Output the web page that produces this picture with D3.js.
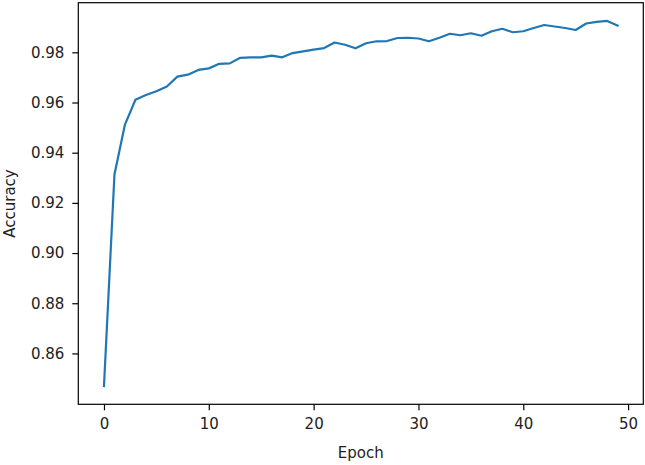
<!DOCTYPE html>
<html>
<head>
<meta charset="utf-8">
<script src="https://cdn.jsdelivr.net/npm/d3@7"></script>
<style>
  body { margin: 0; background: #fff; }
  svg text { font-family: "DejaVu Sans", sans-serif; fill: #222; }
</style>
</head>
<body>
<script>
// accuracy per epoch
let epochs = d3.range(0, 50);
let accuracy = [
  0.8470, 0.9313, 0.9512, 0.9611, 0.9630, 0.9645, 0.9664, 0.9703, 0.9711, 0.9730,
  0.9736, 0.9754, 0.9756, 0.9778, 0.9780, 0.9780, 0.9787, 0.9780, 0.9797, 0.9804,
  0.9811, 0.9817, 0.9839, 0.9830, 0.9816, 0.9836, 0.9844, 0.9845, 0.9857, 0.9858,
  0.9855, 0.9844, 0.9858, 0.9874, 0.9868, 0.9876, 0.9866, 0.9884, 0.9894, 0.9880,
  0.9884, 0.9897, 0.9909, 0.9903, 0.9897, 0.9889, 0.9915, 0.9921, 0.9925, 0.9907
];
let xTicks = [0, 10, 20, 30, 40, 50];
let yTicks = [0.86, 0.88, 0.90, 0.92, 0.94, 0.96, 0.98];

let largeur = 645, hauteur = 465;
let marges = { top: 2.7, right: 1.7, bottom: 60.7, left: 78.3 };
let w = largeur - marges.left - marges.right;
let h = hauteur - marges.top - marges.bottom;

let svg = d3.select("body").append("svg")
    .attr("width", largeur)
    .attr("height", hauteur);

let canevas = svg.append("g")
    .attr("transform", "translate(" + marges.left + "," + marges.top + ")");

// marges a la matplotlib (5%)
let xMin = d3.min(epochs), xMax = d3.max(epochs);
let xPad = (xMax - xMin) * 0.05;
let yMin = d3.min(accuracy), yMax = d3.max(accuracy);
let yPad = (yMax - yMin) * 0.05;

let echelleX = d3.scaleLinear()
    .domain([xMin - xPad, xMax + xPad])
    .range([0, w]);

let echelleY = d3.scaleLinear()
    .domain([yMin - yPad, yMax + yPad])
    .range([h, 0]);

let axeX = d3.axisBottom(echelleX)
    .tickValues(xTicks)
    .tickSize(6)
    .tickPadding(8)
    .tickFormat(d3.format("d"));

let axeY = d3.axisLeft(echelleY)
    .tickValues(yTicks)
    .tickSize(6)
    .tickPadding(8)
    .tickFormat(d3.format(".2f"));

canevas.append("g")
    .attr("transform", "translate(0," + h + ")")
    .call(axeX)
    .call(g => g.select(".domain").remove())
    .call(g => g.selectAll("line").attr("stroke", "#000").attr("stroke-width", 1.2))
    .selectAll("text")
    .attr("font-size", 15)
    .attr("font-family", "DejaVu Sans");

canevas.append("g")
    .call(axeY)
    .call(g => g.select(".domain").remove())
    .call(g => g.selectAll("line").attr("stroke", "#000").attr("stroke-width", 1.2))
    .selectAll("text")
    .attr("font-size", 15)
    .attr("font-family", "DejaVu Sans");

// la courbe
let ligne = d3.line()
    .x((d, i) => echelleX(epochs[i]))
    .y(d => echelleY(d));

canevas.append("path")
    .datum(accuracy)
    .attr("fill", "none")
    .attr("stroke", "#1f77b4")
    .attr("stroke-width", 2.2)
    .attr("stroke-linejoin", "round")
    .attr("stroke-linecap", "square")
    .attr("d", ligne);

// le cadre
canevas.append("rect")
    .attr("width", w)
    .attr("height", h)
    .attr("fill", "none")
    .attr("stroke", "#000")
    .attr("stroke-width", 1.2);

// titres des axes
svg.append("text")
    .attr("x", marges.left + w / 2)
    .attr("y", 458)
    .attr("text-anchor", "middle")
    .attr("font-size", 15)
    .text("Epoch");

svg.append("text")
    .attr("transform", "translate(15," + (marges.top + h / 2) + ") rotate(-90)")
    .attr("text-anchor", "middle")
    .attr("font-size", 15)
    .text("Accuracy");
</script>
</body>
</html>
